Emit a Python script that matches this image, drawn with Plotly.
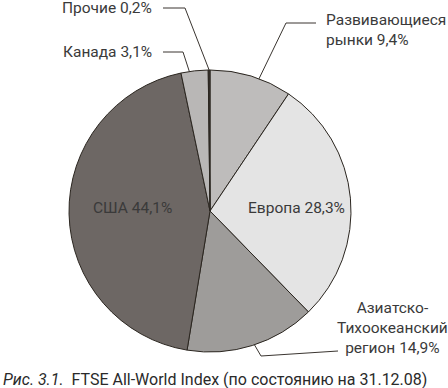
import math
import plotly.graph_objects as go

# ---- data ----
names = ["Развивающиеся<br>рынки", "Европа", "Азиатско-<br>Тихоокеанский<br>регион", "США", "Канада", "Прочие"]
values = [9.4, 28.3, 14.9, 44.1, 3.1, 0.2]
colors = ["#bebcbb", "#e4e4e4", "#9e9c9a", "#6d6764", "#b9b7b6", "#3a3530"]

W, H = 448, 388
CX, CY, R = 210, 211, 141  # pie centre/radius in pixels

fig = go.Figure()
fig.add_trace(go.Pie(
    values=values, labels=[n.replace("<br>", " ") for n in names],
    marker=dict(colors=colors, line=dict(color="#2b2620", width=1)),
    sort=False, direction="clockwise", rotation=0,
    textinfo="none", hoverinfo="label+percent", showlegend=False,
    domain=dict(x=[(CX - R) / W, (CX + R) / W], y=[(H - CY - R) / H, (H - CY + R) / H]),
))

# overlay pixel axis for labels & leader lines
fig.update_xaxes(range=[0, W], visible=False, fixedrange=True)
fig.update_yaxes(range=[H, 0], visible=False, fixedrange=True)

def fmt(v):
    return f"{v:.1f}".replace(".", ",") + "%"

cum = []
s = 0
for v in values:
    cum.append(s + v / 2)
    s += v
total = sum(values)

def anchor(i, frac):
    a = 2 * math.pi * cum[i] / total
    return CX + frac * R * math.sin(a), CY - frac * R * math.cos(a)

font = dict(family="Roboto", size=15.5, color="#3a3a3a")
line_col = "#3a3530"

specs = {
    0: dict(tx=324, ty=30, xa="left", al="left", elbow=(286, 23), end=(316, 23), frac=0.62),
    2: dict(tx=392, ty=328, xa="center", al="center", elbow=(261, 356), end=(338, 351), frac=0.93),
    4: dict(tx=154, ty=52, xa="right", al="right", elbow=(183, 52), end=(163, 52), frac=0.82),
    5: dict(tx=154, ty=8, xa="right", al="right", elbow=(185, 8), end=(163, 8), frac=1.0),
}
for i, sp in specs.items():
    ax_, ay_ = anchor(i, sp["frac"])
    ex, ey = sp["elbow"]
    fx, fy = sp["end"]
    fig.add_trace(go.Scatter(x=[ax_, ex, fx], y=[ay_, ey, fy], mode="lines",
                             line=dict(color=line_col, width=1), hoverinfo="skip", showlegend=False))
    fig.add_annotation(x=sp["tx"], y=sp["ty"], xref="x", yref="y", text=f"{names[i]} {fmt(values[i])}",
                       showarrow=False, xanchor=sp["xa"], yanchor="middle", align=sp["al"], font=font)

for i, (tx, ty) in {3: (132, 208), 1: (296, 208)}.items():
    fig.add_annotation(x=tx, y=ty, xref="x", yref="y", text=f"{names[i]} {fmt(values[i])}",
                       showarrow=False, xanchor="center", yanchor="middle", font=font)

fig.add_annotation(x=1, y=379, xref="x", yref="y", xanchor="left", yanchor="middle", showarrow=False,
                   text="<i>Рис. 3.1.</i>  FTSE All-World Index (по состоянию на 31.12.08)",
                   font=dict(family="Roboto", size=16, color="#2a2a2a"))

fig.update_layout(width=W, height=H, margin=dict(l=0, r=0, t=0, b=0),
                  paper_bgcolor="white", plot_bgcolor="rgba(0,0,0,0)")
fig.write_html("out.html", post_script="document.body.style.margin='0';", config={"displayModeBar": False})
